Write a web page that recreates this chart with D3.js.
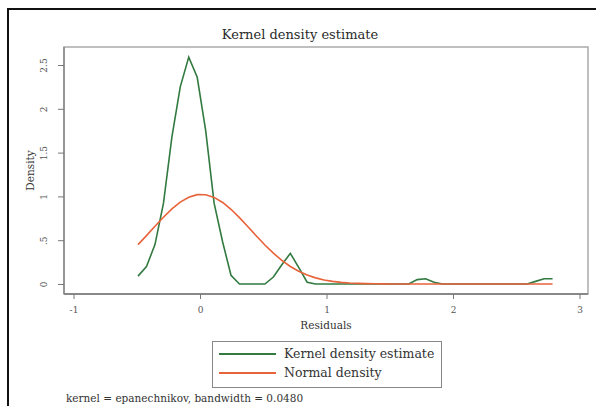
<!DOCTYPE html>
<html>
<head>
<meta charset="utf-8">
<script src="https://cdn.jsdelivr.net/npm/d3@7"></script>
<style>
  body { margin: 0; background: #fff; }
  text { font-family: "DejaVu Serif", "Liberation Serif", serif; }
</style>
</head>
<body>
<div id="chart"></div>
<script>
// data (50 evaluation points)
var gridX = [-0.490, -0.423, -0.356, -0.289, -0.222, -0.156, -0.089, -0.022, 0.045, 0.112,
             0.179, 0.245, 0.312, 0.379, 0.446, 0.513, 0.580, 0.647, 0.714, 0.780,
             0.847, 0.914, 0.981, 1.048, 1.115, 1.182, 1.249, 1.315, 1.382, 1.449,
             1.516, 1.583, 1.650, 1.717, 1.784, 1.850, 1.917, 1.984, 2.051, 2.118,
             2.185, 2.252, 2.319, 2.385, 2.452, 2.519, 2.586, 2.653, 2.720, 2.787];
var kdeY = [0.09, 0.20, 0.45, 0.92, 1.68, 2.25, 2.59, 2.36, 1.75, 0.92,
            0.48, 0.10, 0.00, 0.00, 0.00, 0.00, 0.08, 0.22, 0.35, 0.19,
            0.02, 0.00, 0.00, 0.00, 0.00, 0.00, 0.00, 0.00, 0.00, 0.00,
            0.00, 0.00, 0.00, 0.05, 0.06, 0.02, 0.00, 0.00, 0.00, 0.00,
            0.00, 0.00, 0.00, 0.00, 0.00, 0.00, 0.00, 0.03, 0.06, 0.06];
var normalY = [0.450, 0.552, 0.659, 0.762, 0.857, 0.934, 0.991, 1.020, 1.019, 0.989,
               0.931, 0.853, 0.758, 0.654, 0.548, 0.445, 0.352, 0.269, 0.200, 0.146,
               0.102, 0.070, 0.046, 0.030, 0.019, 0.011, 0.007, 0.004, 0.002, 0.001,
               0, 0, 0, 0, 0, 0, 0, 0, 0, 0,
               0, 0, 0, 0, 0, 0, 0, 0, 0, 0];
var xTicks = [-1, 0, 1, 2, 3];
var yTicks = [0, 0.5, 1, 1.5, 2, 2.5];
var yTickLabels = ["0", ".5", "1", "1.5", "2", "2.5"];
var seriesNames = ["Kernel density estimate", "Normal density"];
var seriesColors = ["#327a40", "#e8623a"];

var W = 596, H = 406;
var plot = {left: 64, right: 588, top: 47, bottom: 294};

var x = d3.scaleLinear().domain([-1, 3]).range([73.5, 579.5]);
var y = d3.scaleLinear().domain([0, 2.5]).range([284, 65]);

var svg = d3.select("#chart").append("svg")
    .attr("width", W)
    .attr("height", H);

// outer frame (only top and left edges are in view)
svg.append("rect")
    .attr("x", 8).attr("y", 9)
    .attr("width", W + 20).attr("height", H + 20)
    .attr("fill", "#fff")
    .attr("stroke", "#111")
    .attr("stroke-width", 2);

// title
svg.append("text")
    .attr("x", 300).attr("y", 39)
    .attr("text-anchor", "middle")
    .attr("font-size", 13)
    .attr("fill", "#2a2a2a")
    .text("Kernel density estimate");

// plot region box
svg.append("rect")
    .attr("x", plot.left).attr("y", plot.top)
    .attr("width", plot.right - plot.left)
    .attr("height", plot.bottom - plot.top)
    .attr("fill", "none")
    .attr("stroke", "#aaa")
    .attr("stroke-width", 1.5);

// axis lines
svg.append("line")
    .attr("x1", plot.left).attr("x2", plot.left)
    .attr("y1", plot.top).attr("y2", plot.bottom)
    .attr("stroke", "#888").attr("stroke-width", 1.5);
svg.append("line")
    .attr("x1", plot.left).attr("x2", plot.right)
    .attr("y1", plot.bottom).attr("y2", plot.bottom)
    .attr("stroke", "#888").attr("stroke-width", 2);

// x axis
var gx = svg.append("g")
    .attr("transform", "translate(0," + plot.bottom + ")")
    .call(d3.axisBottom(x).tickValues(xTicks).tickSize(5).tickSizeOuter(0)
        .tickFormat(function(d) { return d; }));
gx.select(".domain").remove();
gx.selectAll(".tick line").attr("stroke", "#777");
gx.selectAll(".tick text")
    .attr("font-family", "DejaVu Serif, serif")
    .attr("font-size", 9)
    .attr("fill", "#555")
    .attr("y", 13);

// y axis, labels turned vertical
var gy = svg.append("g")
    .attr("transform", "translate(" + plot.left + ",0)")
    .call(d3.axisLeft(y).tickValues(yTicks).tickSize(6).tickSizeOuter(0)
        .tickFormat(function(d, i) { return yTickLabels[i]; }));
gy.select(".domain").remove();
gy.selectAll(".tick line").attr("stroke", "#777");
gy.selectAll(".tick text")
    .attr("font-family", "DejaVu Serif, serif")
    .attr("font-size", 9)
    .attr("fill", "#555")
    .attr("x", null).attr("dy", null)
    .attr("text-anchor", "middle")
    .attr("transform", "translate(-17,0) rotate(-90)");

// axis titles
svg.append("text")
    .attr("x", (plot.left + plot.right) / 2).attr("y", 329)
    .attr("text-anchor", "middle")
    .attr("font-size", 10.5)
    .attr("fill", "#333")
    .text("Residuals");
svg.append("text")
    .attr("transform", "translate(34," + (plot.top + plot.bottom) / 2 + ") rotate(-90)")
    .attr("text-anchor", "middle")
    .attr("font-size", 10.5)
    .attr("fill", "#333")
    .text("Density");

// curves
var line = d3.line()
    .x(function(d) { return x(d[0]); })
    .y(function(d) { return y(d[1]); });

[kdeY, normalY].forEach(function(vals, k) {
  svg.append("path")
      .datum(gridX.map(function(v, i) { return [v, vals[i]]; }))
      .attr("fill", "none")
      .attr("stroke", seriesColors[k])
      .attr("stroke-width", 1.6)
      .attr("d", line);
});

// legend
var lg = svg.append("g");
lg.append("rect")
    .attr("x", 212.5).attr("y", 341.5)
    .attr("width", 229).attr("height", 46)
    .attr("fill", "#fff")
    .attr("stroke", "#888")
    .attr("stroke-width", 1);
seriesNames.forEach(function(name, i) {
  var yy = 354 + i * 19;
  lg.append("line")
      .attr("x1", 219).attr("x2", 276)
      .attr("y1", yy).attr("y2", yy)
      .attr("stroke", seriesColors[i])
      .attr("stroke-width", 2);
  lg.append("text")
      .attr("x", 284).attr("y", yy + 4)
      .attr("font-size", 12.5)
      .attr("fill", "#333")
      .text(name);
});

// note
svg.append("text")
    .attr("x", 66).attr("y", 402)
    .attr("font-size", 10.5)
    .attr("fill", "#333")
    .text("kernel = epanechnikov, bandwidth = 0.0480");
</script>
</body>
</html>
